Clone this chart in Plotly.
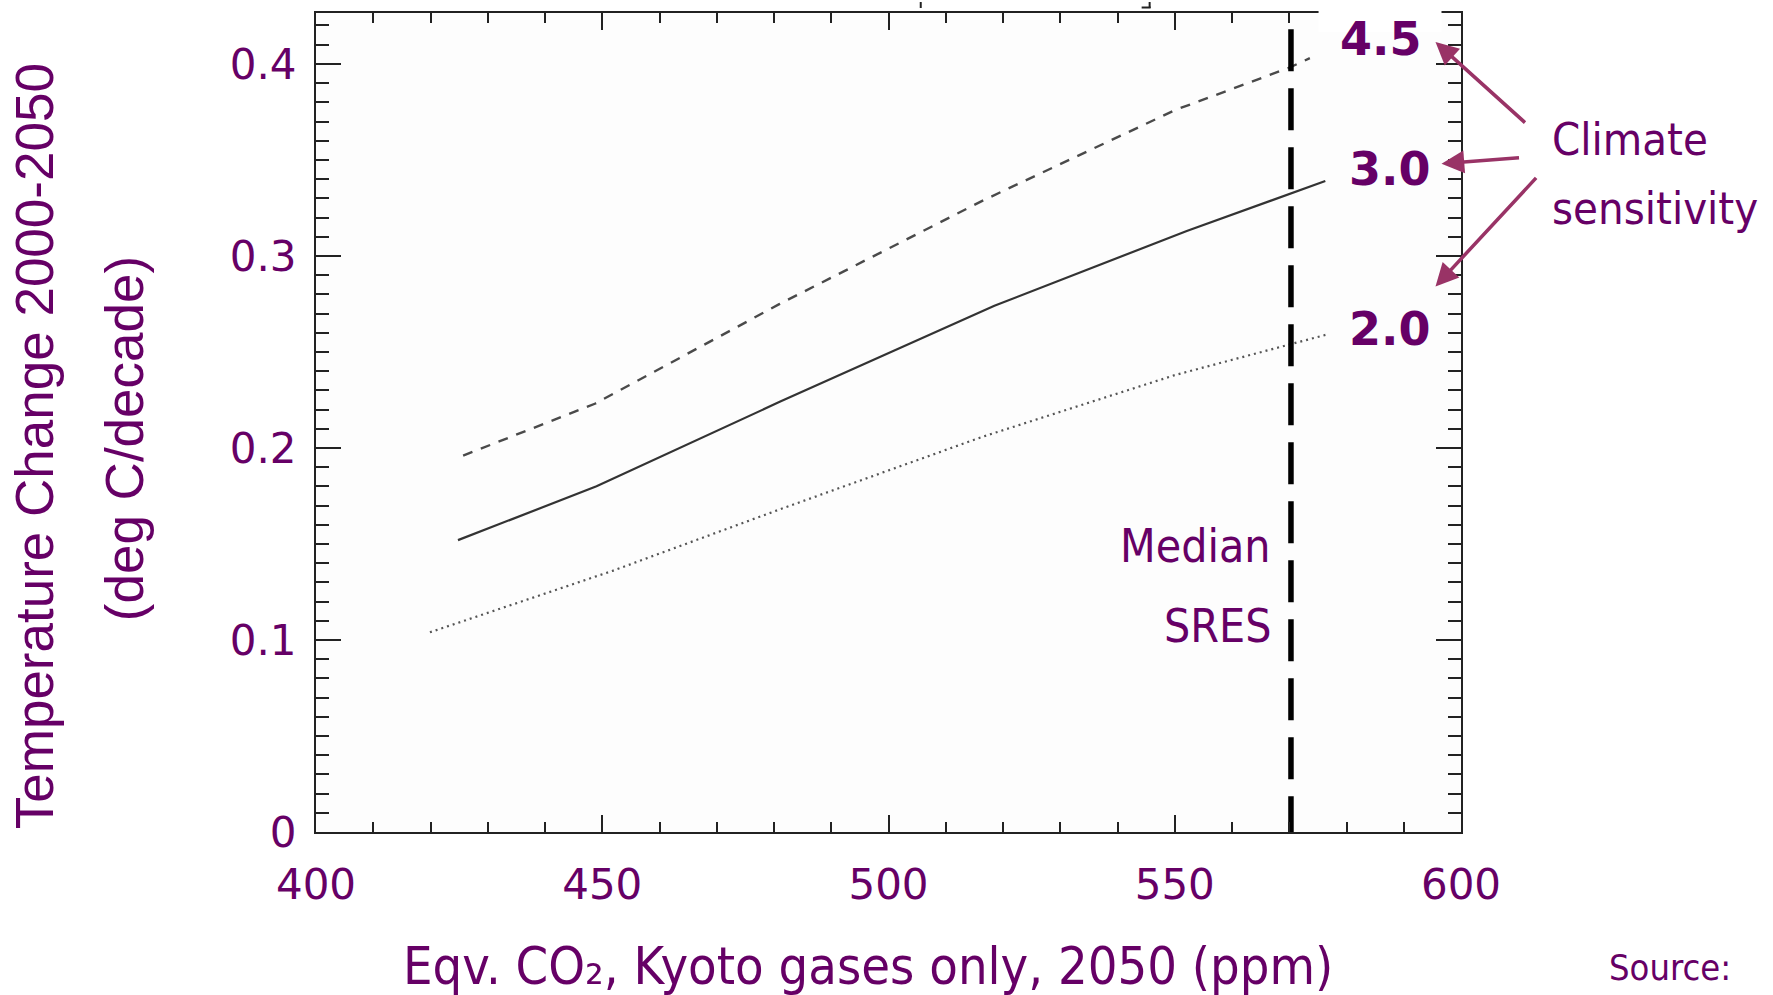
import plotly.graph_objects as go

# Equivalent CO2 (ppm) and warming rate (deg C/decade) for three climate sensitivities
co2_cs45 = [425.7, 448.7, 481.0, 516.6, 550.1, 570.0, 573.6]
rate_cs45 = [0.196, 0.223, 0.275, 0.329, 0.376, 0.398, 0.403]

co2_cs30 = [424.8, 449.0, 481.0, 518.5, 552.1, 570.0, 576.3]
rate_cs30 = [0.152, 0.180, 0.224, 0.274, 0.313, 0.332, 0.339]

co2_cs20 = [419.9, 451.8, 481.0, 516.6, 550.1, 570.0, 576.5]
rate_cs20 = [0.104, 0.136, 0.168, 0.206, 0.238, 0.254, 0.259]

# Median SRES marker
median_sres_co2 = [570.3, 570.3]
median_sres_span = [0.418, 0.0]

x_ticks = [400, 450, 500, 550, 600]
y_ticks = [0, 0.1, 0.2, 0.3, 0.4]
y_tick_text = ["0", "0.1", "0.2", "0.3", "0.4"]

sensitivity_labels = ["4.5", "3.0", "2.0"]

W, H = 1773, 995
L, R, T, B = 316, 1461.5, 11, 831.7

PURPLE = "#660066"
ARROW = "#993366"
AXIS = "#222222"


def px(x):
    return (x - L) / (R - L)


def py(y):
    return (B - y) / (B - T)


fig = go.Figure()

fig.add_trace(go.Scatter(x=co2_cs45, y=rate_cs45, mode="lines",
                         line=dict(color="#4a4a4a", width=2.4, dash="10px,9px"),
                         hoverinfo="skip"))
fig.add_trace(go.Scatter(x=co2_cs30, y=rate_cs30, mode="lines",
                         line=dict(color="#333333", width=2.2),
                         hoverinfo="skip"))
fig.add_trace(go.Scatter(x=co2_cs20, y=rate_cs20, mode="lines",
                         line=dict(color="#555555", width=2.2, dash="2px,4px"),
                         hoverinfo="skip"))
fig.add_trace(go.Scatter(x=median_sres_co2, y=median_sres_span, mode="lines",
                         line=dict(color="#000000", width=5.5, dash="42px,17px"),
                         hoverinfo="skip"))

axis_common = dict(
    showline=True, linecolor=AXIS, linewidth=2, mirror="ticks",
    ticks="inside", tickcolor=AXIS, tickwidth=2,
    showgrid=False, zeroline=False,
    tickfont=dict(family="DejaVu Sans, Verdana, sans-serif", size=42, color=PURPLE),
)

fig.update_xaxes(range=[400, 600], tickvals=x_ticks, ticklen=17,
                 minor=dict(dtick=10, tick0=400, ticks="inside", ticklen=10,
                            tickcolor=AXIS, tickwidth=2),
                 ticklabelstandoff=15, **axis_common)
fig.update_yaxes(range=[0, 0.4265], tickvals=y_ticks, ticktext=y_tick_text, ticklen=25,
                 minor=dict(dtick=0.01, tick0=0, ticks="inside", ticklen=13,
                            tickcolor=AXIS, tickwidth=2),
                 ticklabelstandoff=9, **axis_common)

shapes = [
    # gap in the frame behind the sensitivity labels
    dict(type="rect", xref="paper", yref="paper", x0=px(1319), x1=px(1442), y0=py(30), y1=py(-2),
         fillcolor="white", line=dict(width=0), layer="above"),
    # small marks above the frame
    dict(type="line", xref="paper", yref="paper", x0=px(921), x1=px(921), y0=py(0), y1=py(6),
         line=dict(color=AXIS, width=2)),
    dict(type="line", xref="paper", yref="paper", x0=px(1150), x1=px(1150), y0=py(0), y1=py(6),
         line=dict(color=AXIS, width=2)),
    dict(type="line", xref="paper", yref="paper", x0=px(1142), x1=px(1151), y0=py(5.5), y1=py(5.5),
         line=dict(color=AXIS, width=2)),
]

ann = []
label_font = dict(family="DejaVu Sans, Verdana, sans-serif", size=46, color=PURPLE)
label_pos = [(1381, 37), (1390, 167), (1390, 328)]
for txt, (lx, ly) in zip(sensitivity_labels, label_pos):
    ann.append(dict(text="<b>" + txt + "</b>", x=px(lx), y=py(ly), xref="paper", yref="paper",
                    showarrow=False, font=label_font, xanchor="center", yanchor="middle"))

body_font = dict(family="DejaVu Sans Condensed, DejaVu Sans, sans-serif", size=45, color=PURPLE)
ann.append(dict(text="Climate", x=px(1551), y=py(138), xref="paper", yref="paper",
                showarrow=False, font=body_font, xanchor="left", yanchor="middle"))
ann.append(dict(text="sensitivity", x=px(1551), y=py(207), xref="paper", yref="paper",
                showarrow=False, font=body_font, xanchor="left", yanchor="middle"))
median_font = dict(family="DejaVu Sans Condensed, DejaVu Sans, sans-serif", size=46, color=PURPLE)
ann.append(dict(text="Median", x=px(1273), y=py(545), xref="paper", yref="paper",
                showarrow=False, font=median_font, xanchor="right", yanchor="middle"))
ann.append(dict(text="SRES", x=px(1273), y=py(625), xref="paper", yref="paper",
                showarrow=False, font=median_font, xanchor="right", yanchor="middle"))
ann.append(dict(text="Source:", x=px(1608), y=py(967), xref="paper", yref="paper",
                showarrow=False, font=dict(family="DejaVu Sans Condensed, DejaVu Sans, sans-serif",
                                           size=36, color=PURPLE),
                xanchor="left", yanchor="middle"))

# arrows from the "Climate sensitivity" note to each label
arrows = [((1436, 40), (1527, 122)), ((1442, 162), (1521, 156)), ((1436, 285), (1538, 175))]
for (hx, hy), (tx, ty) in arrows:
    ann.append(dict(text="", x=px(hx), y=py(hy), xref="paper", yref="paper",
                    showarrow=True, ax=tx - hx, ay=ty - hy, axref="pixel", ayref="pixel",
                    arrowhead=2, arrowsize=1.3, arrowwidth=3.5, arrowcolor=ARROW, standoff=0))

# axis titles
title_font = dict(family="Liberation Sans Narrow, Arial Narrow, Liberation Sans, sans-serif",
                  size=53, color=PURPLE)
ann.append(dict(text="Temperature Change 2000-2050", x=px(34), y=py(445), xref="paper", yref="paper",
                showarrow=False, textangle=-90, font=title_font, xanchor="center", yanchor="middle"))
ann.append(dict(text="(deg C/decade)", x=px(124), y=py(438), xref="paper", yref="paper",
                showarrow=False, textangle=-90, font=title_font, xanchor="center", yanchor="middle"))
ann.append(dict(text="Eqv. CO\u2082, Kyoto gases only, 2050 (ppm)", x=px(868), y=py(966),
                xref="paper", yref="paper", showarrow=False,
                font=dict(family="DejaVu Sans Condensed, DejaVu Sans, sans-serif", size=52, color=PURPLE),
                xanchor="center", yanchor="middle"))

fig.update_layout(
    width=W, height=H,
    margin=dict(l=L, r=W - R, t=T, b=H - B, pad=0),
    paper_bgcolor="white", plot_bgcolor="#fdfdfd",
    showlegend=False,
    shapes=shapes, annotations=ann,
)

fig.write_html("out.html")
